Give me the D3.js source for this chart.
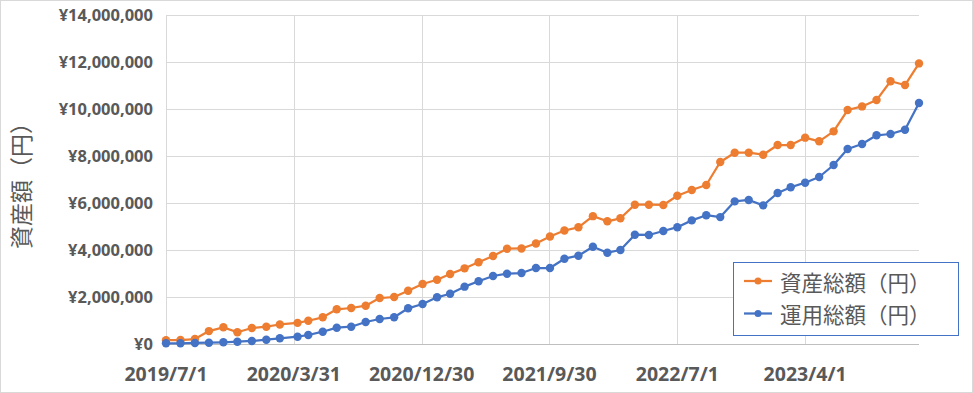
<!DOCTYPE html>
<html>
<head>
<meta charset="utf-8">
<script src="https://cdn.jsdelivr.net/npm/d3@7"></script>
<style>
  html, body { margin: 0; padding: 0; background: #fff; }
  svg { display: block; }
</style>
</head>
<body>
<div id="chart"></div>
<script>
const width = 973;
const height = 393;
const plot = { left: 166, right: 919, top: 15, bottom: 344 };

// monthly data points
const dates = [
  "2019/7/1", "2019/8/1", "2019/9/1", "2019/10/1", "2019/11/1", "2019/12/1",
  "2020/1/1", "2020/2/1", "2020/3/1", "2020/4/8", "2020/5/1", "2020/6/1",
  "2020/7/1", "2020/8/1", "2020/9/1", "2020/10/1", "2020/11/1", "2020/12/1",
  "2021/1/1", "2021/2/1", "2021/3/1", "2021/4/1", "2021/5/1", "2021/6/1",
  "2021/7/1", "2021/8/1", "2021/9/1", "2021/10/1", "2021/11/1", "2021/12/1",
  "2022/1/1", "2022/2/1", "2022/3/1", "2022/4/1", "2022/5/1", "2022/6/1",
  "2022/7/1", "2022/8/1", "2022/9/1", "2022/10/1", "2022/11/1", "2022/12/1",
  "2023/1/1", "2023/2/1", "2023/3/1", "2023/4/1", "2023/5/1", "2023/6/1",
  "2023/7/1", "2023/8/1", "2023/9/1", "2023/10/1", "2023/11/1", "2023/12/1"
];

// 資産総額（円）
const totalAssets = [
  160000, 170000, 210000, 550000, 710000, 500000,
  680000, 735000, 830000, 900000, 990000, 1136000,
  1476000, 1532000, 1630000, 1957000, 2000000, 2268000,
  2553000, 2736000, 2979000, 3220000, 3476000, 3745000,
  4055000, 4065000, 4275000, 4575000, 4830000, 4966000,
  5440000, 5221000, 5349000, 5928000, 5928000, 5915000,
  6310000, 6553000, 6766000, 7745000, 8140000, 8140000,
  8055000, 8468000, 8468000, 8780000, 8625000, 9050000,
  9957000, 10110000, 10380000, 11180000, 11020000, 11940000
];

// 運用総額（円）
const investedTotal = [
  30000, 30000, 43000, 55000, 72000, 98000,
  128000, 183000, 243000, 311000, 383000, 523000,
  694000, 736000, 936000, 1064000, 1136000, 1519000,
  1702000, 1987000, 2140000, 2440000, 2670000, 2894000,
  2990000, 3020000, 3234000, 3234000, 3630000, 3757000,
  4140000, 3885000, 4000000, 4650000, 4640000, 4810000,
  4970000, 5260000, 5480000, 5400000, 6070000, 6128000,
  5900000, 6426000, 6668000, 6864000, 7106000, 7617000,
  8298000, 8510000, 8880000, 8936000, 9120000, 10255000
];

const xTickLabels = ["2019/7/1", "2020/3/31", "2020/12/30", "2021/9/30", "2022/7/1", "2023/4/1"];
const yTicks = [0, 2000000, 4000000, 6000000, 8000000, 10000000, 12000000, 14000000];

const seriesNames = ["資産総額（円）", "運用総額（円）"];
const seriesColors = ["#ED7D31", "#4472C4"];

const parse = d3.timeParse("%Y/%m/%d");
const fmt = d3.format(",");
const textColor = "#595959";
const latin = "'Noto Sans', 'Liberation Sans', sans-serif";
const cjk = "'Noto Sans CJK JP', 'Noto Sans', sans-serif";

const svg = d3.select("#chart").append("svg")
  .attr("width", width)
  .attr("height", height);

// chart border
svg.append("rect")
  .attr("x", 0.5).attr("y", 0.5)
  .attr("width", width - 1).attr("height", height - 1)
  .attr("fill", "#fff")
  .attr("stroke", "#D9D9D9");

const x = d3.scaleTime()
  .domain([parse(dates[0]), parse(dates[dates.length - 1])])
  .range([plot.left, plot.right]);

const y = d3.scaleLinear()
  .domain([0, 14000000])
  .range([plot.bottom, plot.top]);

const xTicks = xTickLabels.map(parse);

// gridlines
svg.append("g")
  .selectAll("line.h")
  .data(yTicks.filter(d => d > 0))
  .join("line")
  .attr("x1", plot.left).attr("x2", plot.right)
  .attr("y1", d => Math.round(y(d)) + 0.5).attr("y2", d => Math.round(y(d)) + 0.5)
  .attr("stroke", "#D9D9D9");

svg.append("g")
  .selectAll("line.v")
  .data(xTicks)
  .join("line")
  .attr("x1", d => Math.round(x(d)) + 0.5).attr("x2", d => Math.round(x(d)) + 0.5)
  .attr("y1", plot.top).attr("y2", plot.bottom)
  .attr("stroke", "#D9D9D9");

// x axis line
svg.append("line")
  .attr("x1", plot.left).attr("x2", plot.right)
  .attr("y1", y(0) + 0.5).attr("y2", y(0) + 0.5)
  .attr("stroke", "#BFBFBF");

// y tick labels
svg.append("g")
  .selectAll("text")
  .data(yTicks)
  .join("text")
  .attr("x", 153)
  .attr("y", d => y(d))
  .attr("dy", "0.35em")
  .attr("text-anchor", "end")
  .attr("fill", textColor)
  .style("font-family", latin)
  .style("font-weight", "bold")
  .style("font-size", "16.5px")
  .text(d => "¥" + fmt(d));

// x tick labels
svg.append("g")
  .selectAll("text")
  .data(xTickLabels)
  .join("text")
  .attr("x", d => x(parse(d)))
  .attr("y", 381)
  .attr("text-anchor", "middle")
  .attr("fill", textColor)
  .style("font-family", latin)
  .style("font-weight", "bold")
  .style("font-size", "19.5px")
  .text(d => d);

// y axis title
svg.append("text")
  .attr("transform", "translate(20,180) rotate(-90)")
  .attr("text-anchor", "middle")
  .attr("dominant-baseline", "central")
  .attr("fill", textColor)
  .style("font-family", cjk)
  .style("font-size", "23px")
  .text("資産額（円）");

// lines and markers
const seriesValues = [totalAssets, investedTotal];
const line = d3.line()
  .x(d => x(d.date))
  .y(d => y(d.value));

seriesValues.forEach((vals, i) => {
  const pts = dates.map((d, j) => ({ date: parse(d), value: vals[j] }));
  const g = svg.append("g");
  g.append("path")
    .datum(pts)
    .attr("d", line)
    .attr("fill", "none")
    .attr("stroke", seriesColors[i])
    .attr("stroke-width", 2.25)
    .attr("stroke-linejoin", "round");
  g.selectAll("circle")
    .data(pts)
    .join("circle")
    .attr("cx", d => x(d.date))
    .attr("cy", d => y(d.value))
    .attr("r", 4.2)
    .attr("fill", seriesColors[i]);
});

// legend
const legend = svg.append("g");
legend.append("rect")
  .attr("x", 733.5).attr("y", 262.5)
  .attr("width", 225).attr("height", 73)
  .attr("fill", "#fff")
  .attr("stroke", "#4472C4");

const legendRows = legend.selectAll("g.row")
  .data(seriesNames)
  .join("g")
  .attr("transform", (d, i) => `translate(0, ${281 + i * 32.5})`);

legendRows.append("line")
  .attr("x1", 744).attr("x2", 772)
  .attr("stroke", (d, i) => seriesColors[i])
  .attr("stroke-width", 2.25);

legendRows.append("circle")
  .attr("cx", 758).attr("r", 3.5)
  .attr("fill", (d, i) => seriesColors[i]);

legendRows.append("text")
  .attr("x", 780)
  .attr("dominant-baseline", "central")
  .attr("fill", textColor)
  .style("font-family", cjk)
  .style("font-size", "21.5px")
  .text(d => d);
</script>
</body>
</html>
